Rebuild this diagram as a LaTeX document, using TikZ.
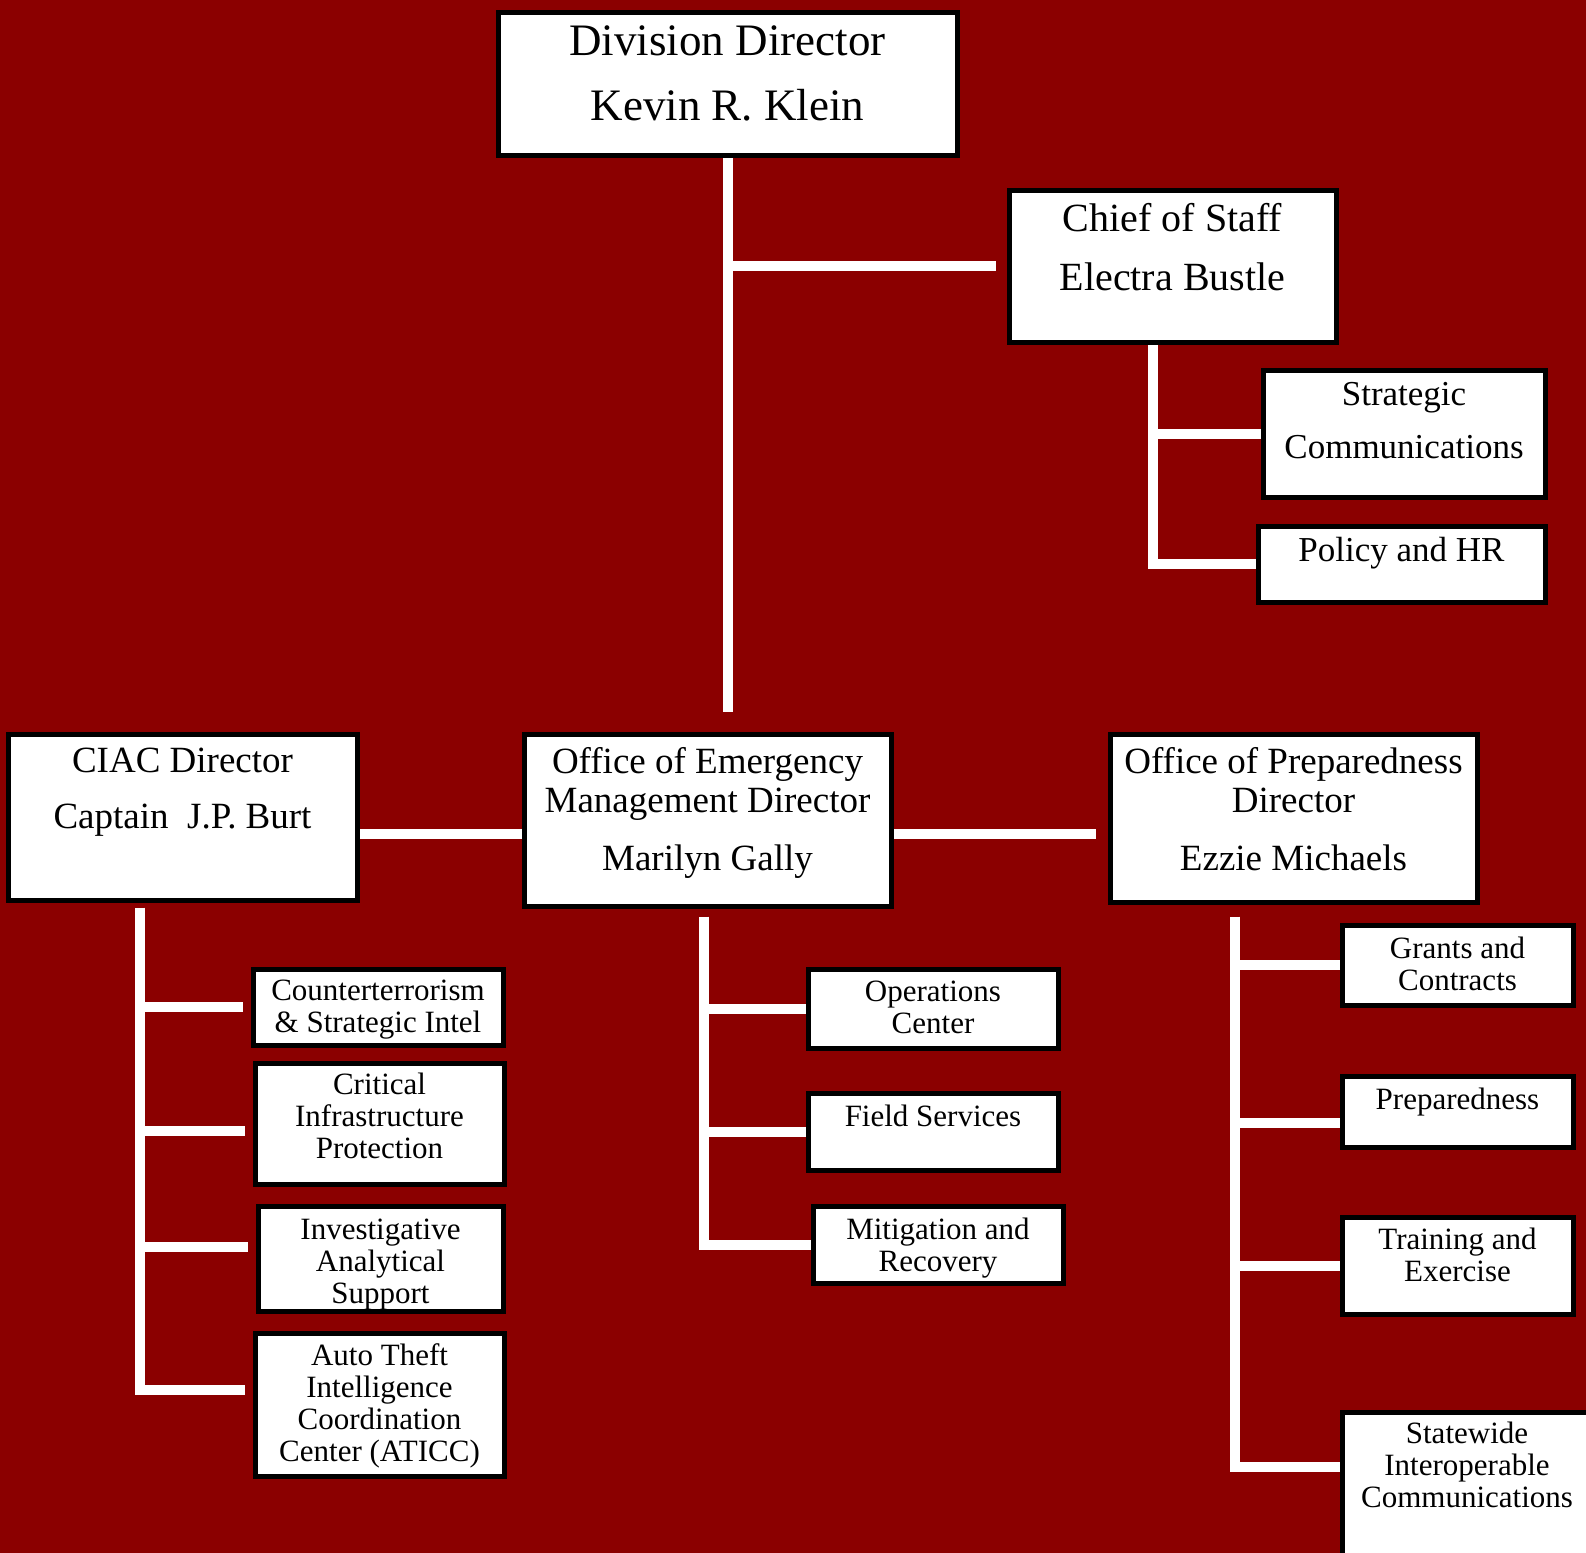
\documentclass[tikz,border=0pt]{standalone}
\usepackage{fontspec}
\setmainfont{Liberation Serif}
\usetikzlibrary{fit}

\definecolor{bgred}{RGB}{139,0,0}
\newcommand{\topfont}{\fontsize{22.5}{32.5}\selectfont}
\newcommand{\cosfont}{\fontsize{20}{29.5}\selectfont}
\newcommand{\subfont}{\fontsize{17.5}{26.5}\selectfont}
\newcommand{\midfont}{\fontsize{18.5}{19.5}\selectfont}
\newcommand{\unitfont}{\fontsize{15.5}{16}\selectfont}

\pgfdeclarelayer{back}
\pgfdeclarelayer{wires}
\pgfsetlayers{back,wires,main}

\begin{document}
\begin{tikzpicture}[x=0.5pt, y=-0.5pt,
        box/.style={draw=black, line width=2.5pt, fill=white, inner sep=0pt},
        txt/.style={align=center, anchor=base, inner sep=0pt, text=black},
        wire/.style={draw=white, line width=5pt}]

        % Red background
        \begin{pgfonlayer}{back}
            \fill[bgred] (0,0) rectangle (1586,1553);
        \end{pgfonlayer}
        \useasboundingbox (0,0) rectangle (1586,1553);

        % Director and chief of staff (text sits on its last baseline)
        \node[box, fit={(498,12) (957,155)}] (dd) {};
        \node[txt, font=\topfont] (dd-t) at (dd.north |- 0,120) {Division Director\\Kevin R. Klein};
        \node[box, fit={(1009,190) (1336,342)}] (cos) {};
        \node[txt, font=\cosfont] (cos-t) at (cos.north |- 0,290) {Chief of Staff\\Electra Bustle};

        % Staff offices
        \node[box, fit={(1263,370) (1545,497)}] (sc) {};
        \node[txt, font=\subfont] (sc-t) at (sc.north |- 0,458) {Strategic\\Communications};
        \node[box, fit={(1258,526) (1545,602)}] (pol) {};
        \node[txt, font=\subfont] (pol-t) at (pol.north |- 0,561) {Policy and HR};

        % The three offices
        \node[box, fit={(8,734) (357,900)}] (ciac) {};
        \node[txt, font=\midfont] (ciac-t) at (ciac.north |- 0,828) {CIAC Director\\[8.5pt]Captain~ J.P. Burt};
        \node[box, fit={(524,734) (891,906)}] (oem) {};
        \node[txt, font=\midfont] (oem-t) at (oem.north |- 0,870) {Office of Emergency\\Management Director\\[9.5pt]Marilyn Gally};
        \node[box, fit={(1110,734) (1477,902)}] (oop) {};
        \node[txt, font=\midfont] (oop-t) at (oop.north |- 0,870) {Office of Preparedness\\Director\\[9.5pt]Ezzie Michaels};

        % CIAC units
        \node[box, fit={(253,969) (503,1045)}] (ct) {};
        \node[txt, font=\unitfont] (ct-t) at (ct.north |- 0,1032) {Counterterrorism\\\& Strategic Intel};
        \node[box, fit={(255,1063) (504,1184)}] (cip) {};
        \node[txt, font=\unitfont] (cip-t) at (cip.north |- 0,1158) {Critical\\Infrastructure\\Protection};
        \node[box, fit={(258,1206) (503,1311)}] (ias) {};
        \node[txt, font=\unitfont] (ias-t) at (ias.north |- 0,1303) {Investigative\\Analytical\\Support};
        \node[box, fit={(255,1333) (504,1476)}] (aticc) {};
        \node[txt, font=\unitfont] (aticc-t) at (aticc.north |- 0,1461) {Auto Theft\\Intelligence\\Coordination\\Center (ATICC)};

        % Emergency management units
        \node[box, fit={(808,969) (1058,1048)}] (ops) {};
        \node[txt, font=\unitfont] (ops-t) at (ops.north |- 0,1033) {Operations\\Center};
        \node[box, fit={(808,1093) (1058,1170)}] (fs) {};
        \node[txt, font=\unitfont] (fs-t) at (fs.north |- 0,1126) {Field Services};
        \node[box, fit={(813,1206) (1063,1283)}] (mr) {};
        \node[txt, font=\unitfont] (mr-t) at (mr.north |- 0,1271) {Mitigation and\\Recovery};

        % Preparedness units
        \node[box, fit={(1342,925) (1573,1005)}] (gc) {};
        \node[txt, font=\unitfont] (gc-t) at (gc.north |- 0,990) {Grants and\\Contracts};
        \node[box, fit={(1342,1076) (1573,1147)}] (pr) {};
        \node[txt, font=\unitfont] (pr-t) at (pr.north |- 0,1109) {Preparedness};
        \node[box, fit={(1342,1217) (1573,1314)}] (te) {};
        \node[txt, font=\unitfont] (te-t) at (te.north |- 0,1281) {Training and\\Exercise};
        \node[box, fit={(1342,1412) (1592,1600)}] (sic) {};
        \node[txt, font=\unitfont] (sic-t) at (sic.north |- 0,1507) {Statewide\\Interoperable\\Communications};

        % white connectors, under the boxes
        \begin{pgfonlayer}{wires}
            \draw[wire, shorten >=10pt] (dd.south) -- (dd.south |- oem.north);
            \draw[wire, shorten >=5.5pt] (dd.south |- cos.west) -- (cos.west);

            % chief of staff trunk
            \coordinate (cosT) at ([xshift=-10pt]cos.south);
            \draw[wire] (cosT) -- (cosT |- pol.west) -- (pol.west);
            \draw[wire] (cosT |- sc.west) -- (sc.west);

            % across the middle row
            \coordinate (midY) at ([yshift=-8.5pt]ciac.east);
            \draw[wire] (midY) -- (midY -| oem.west);
            \draw[wire, shorten >=6pt] (midY -| oem.east) -- (midY -| oop.west);

            % CIAC trunk
            \coordinate (ciacT) at ([xshift=-21.25pt]ciac.south);
            \foreach \n/\s in {ct/0pt, cip/-3.75pt, ias/5.75pt, aticc/7.25pt}
                \coordinate (\n-in) at ([yshift=\s]\n.west);
            \draw[wire, shorten <=2.5pt, shorten >=4pt] (ciacT) -- (ciacT |- aticc-in) -- (aticc-in);
            \foreach \n in {ct, cip, ias}
                \draw[wire, shorten >=4pt] (ciacT |- \n-in) -- (\n-in);

            % OEM trunk
            \coordinate (oemT) at ([xshift=-1.75pt]oem.south);
            \draw[wire, shorten <=4pt] (oemT) -- (oemT |- mr.west) -- (mr.west);
            \foreach \n in {ops, fs}
                \draw[wire] (oemT |- \n.west) -- (\n.west);

            % Preparedness trunk
            \coordinate (oopT) at ([xshift=-29.25pt]oop.south);
            \foreach \n/\s in {gc/0pt, pr/-5.75pt, te/0pt, sic/19.5pt}
                \coordinate (\n-in) at ([yshift=\s]\n.west);
            \draw[wire, shorten <=6pt] (oopT) -- (oopT |- sic-in) -- (sic-in);
            \foreach \n in {gc, pr, te}
                \draw[wire] (oopT |- \n-in) -- (\n-in);
        \end{pgfonlayer}
\end{tikzpicture}
\end{document}
